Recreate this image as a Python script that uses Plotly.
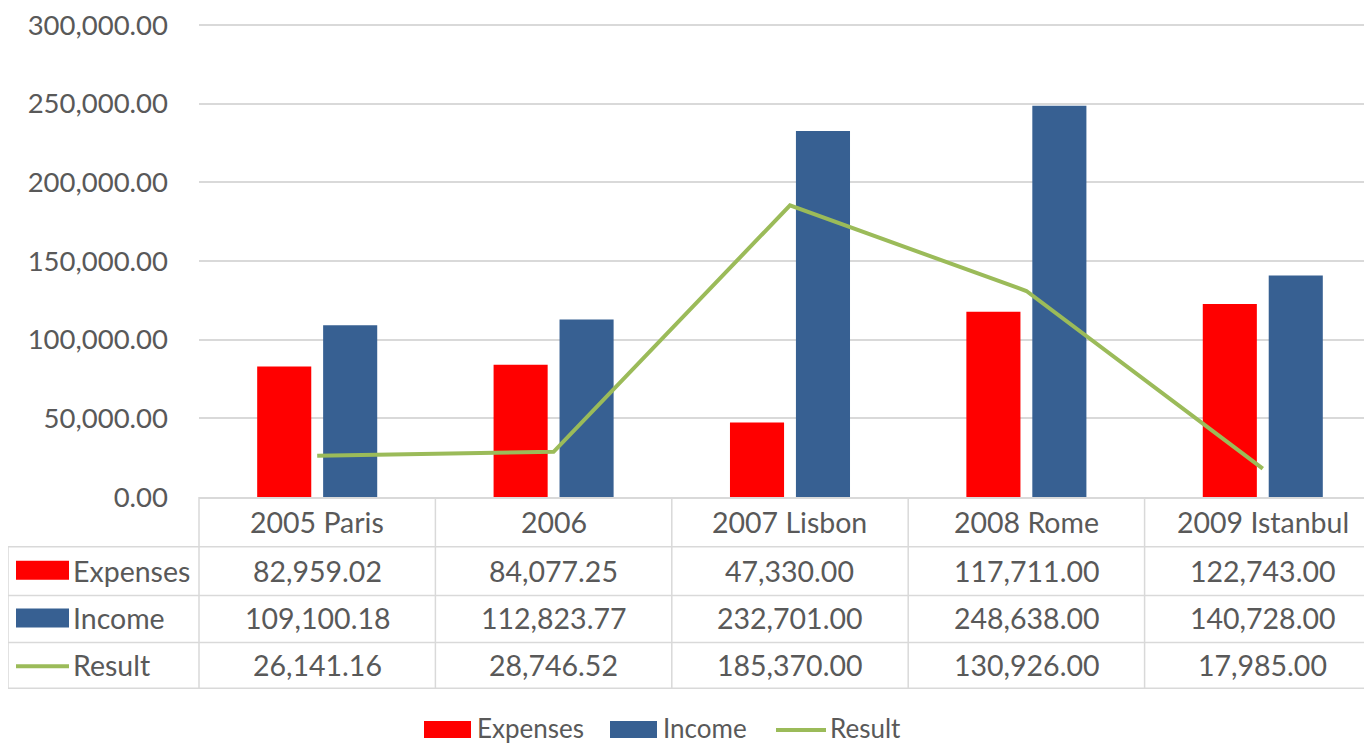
import plotly.graph_objects as go

categories = ["2005 Paris", "2006", "2007 Lisbon", "2008 Rome", "2009 Istanbul"]
expenses = [82959.02, 84077.25, 47330.00, 117711.00, 122743.00]
income = [109100.18, 112823.77, 232701.00, 248638.00, 140728.00]
result = [26141.16, 28746.52, 185370.00, 130926.00, 17985.00]
series_names = ["Expenses", "Income", "Result"]
y_ticks = [0, 50000, 100000, 150000, 200000, 250000, 300000]

RED = "#FF0000"
BLUE = "#376092"
GREEN = "#9BBB59"
GRID = "#D9D9D9"
TXT = "#595959"
FONT = "Lato"

OFF = 8  # page body margin
W, H = 1372 - OFF, 745 - OFF
P_LEFT, P_RIGHT, P_ZERO, P_TOPTICK = 199, 1372, 497, 23
P_TOP = 21
ML = P_LEFT - OFF
MR = 1372 - P_RIGHT
MT = P_TOP - OFF
MB = H - (P_ZERO - OFF)
PW = W - ML - MR
PH = H - MT - MB
YMAX = 300000 + (P_TOPTICK - P_TOP) * 300000 / (P_ZERO - P_TOPTICK)
XMIN, XMAX = -0.5, 4.462


def px_x(px):
    return (px - OFF - ML) / PW


def px_y(py):
    return (H - MB - (py - OFF)) / PH


def cat_x(i):
    return (i - XMIN) / (XMAX - XMIN)


fig = go.Figure()
fig.add_trace(go.Bar(x=list(range(len(categories))), y=expenses, name="Expenses",
                     marker=dict(color=RED, line=dict(width=0)), showlegend=False))
fig.add_trace(go.Bar(x=list(range(len(categories))), y=income, name="Income",
                     marker=dict(color=BLUE, line=dict(width=0)), showlegend=False))
fig.add_trace(go.Scatter(x=list(range(len(categories))), y=result, name="Result", mode="lines",
                         line=dict(color=GREEN, width=4), showlegend=False))

shapes = []
annotations = []
line_style = dict(color=GRID, width=1.5)
TFS = 28.5

header_top = 497
table_bottom = 689
left_edge = 8
row_lines = [547, 596, 643, 689]

for ry in row_lines:
    shapes.append(dict(type="line", xref="paper", yref="paper", x0=px_x(left_edge), x1=1,
                       y0=px_y(ry), y1=px_y(ry), line=line_style))
shapes.append(dict(type="line", xref="paper", yref="paper", x0=px_x(left_edge), x1=px_x(left_edge),
                   y0=px_y(547), y1=px_y(table_bottom), line=line_style))
for i in range(len(categories)):
    xb = cat_x(i - 0.5)
    shapes.append(dict(type="line", xref="paper", yref="paper", x0=xb, x1=xb,
                       y0=px_y(header_top), y1=px_y(table_bottom), line=line_style))

for i, c in enumerate(categories):
    annotations.append(dict(x=cat_x(i), y=px_y(522), xref="paper", yref="paper", text=c,
                            showarrow=False, xanchor="center", yanchor="middle",
                            font=dict(family=FONT, size=TFS, color=TXT)))

rows = [expenses, income, result]
row_centers = [571, 619, 666]
for r, (vals, cy) in enumerate(zip(rows, row_centers)):
    for i, v in enumerate(vals):
        annotations.append(dict(x=cat_x(i), y=px_y(cy), xref="paper", yref="paper",
                                text=f"{v:,.2f}", showarrow=False, xanchor="center", yanchor="middle",
                                font=dict(family=FONT, size=TFS, color=TXT)))
    annotations.append(dict(x=px_x(71), y=px_y(cy), xref="paper", yref="paper",
                            text=series_names[r], showarrow=False, xanchor="left", yanchor="middle",
                            font=dict(family=FONT, size=TFS, color=TXT)))

shapes.append(dict(type="rect", xref="paper", yref="paper", x0=px_x(16), x1=px_x(69),
                   y0=px_y(580), y1=px_y(561), fillcolor=RED, line=dict(width=0)))
shapes.append(dict(type="rect", xref="paper", yref="paper", x0=px_x(16), x1=px_x(69),
                   y0=px_y(628), y1=px_y(609), fillcolor=BLUE, line=dict(width=0)))
shapes.append(dict(type="line", xref="paper", yref="paper", x0=px_x(16), x1=px_x(69),
                   y0=px_y(667), y1=px_y(667), line=dict(color=GREEN, width=4)))

# bottom legend
ly = 729
LFS = 26
shapes.append(dict(type="rect", xref="paper", yref="paper", x0=px_x(424), x1=px_x(471),
                   y0=px_y(739), y1=px_y(722), fillcolor=RED, line=dict(width=0)))
annotations.append(dict(x=px_x(475), y=px_y(ly), xref="paper", yref="paper", text="Expenses",
                        showarrow=False, xanchor="left", yanchor="middle",
                        font=dict(family=FONT, size=LFS, color=TXT)))
shapes.append(dict(type="rect", xref="paper", yref="paper", x0=px_x(610), x1=px_x(657),
                   y0=px_y(739), y1=px_y(722), fillcolor=BLUE, line=dict(width=0)))
annotations.append(dict(x=px_x(661), y=px_y(ly), xref="paper", yref="paper", text="Income",
                        showarrow=False, xanchor="left", yanchor="middle",
                        font=dict(family=FONT, size=LFS, color=TXT)))
shapes.append(dict(type="line", xref="paper", yref="paper", x0=px_x(776), x1=px_x(826),
                   y0=px_y(731), y1=px_y(731), line=dict(color=GREEN, width=4)))
annotations.append(dict(x=px_x(828), y=px_y(ly), xref="paper", yref="paper", text="Result",
                        showarrow=False, xanchor="left", yanchor="middle",
                        font=dict(family=FONT, size=LFS, color=TXT)))

fig.update_layout(
    width=W, height=H,
    margin=dict(l=ML, r=MR, t=MT, b=MB, pad=0),
    paper_bgcolor="white", plot_bgcolor="white",
    barmode="group", bargap=0.442, bargroupgap=0.18,
    shapes=shapes, annotations=annotations,
    font=dict(family=FONT, color=TXT),
    showlegend=False,
)
fig.update_xaxes(range=[XMIN, XMAX], showticklabels=False, showgrid=False, zeroline=False,
                 showline=True, linecolor=GRID, linewidth=1.5, ticks="")
fig.update_yaxes(range=[0, YMAX], tickvals=y_ticks, tickformat=",.2f", showgrid=True,
                 gridcolor=GRID, gridwidth=1.5, zeroline=False, showline=False, ticks="",
                 ticklabelstandoff=30, ticklabeloverflow="allow",
                 tickfont=dict(family=FONT, size=27.5, color=TXT))

fig.write_html("out.html")
